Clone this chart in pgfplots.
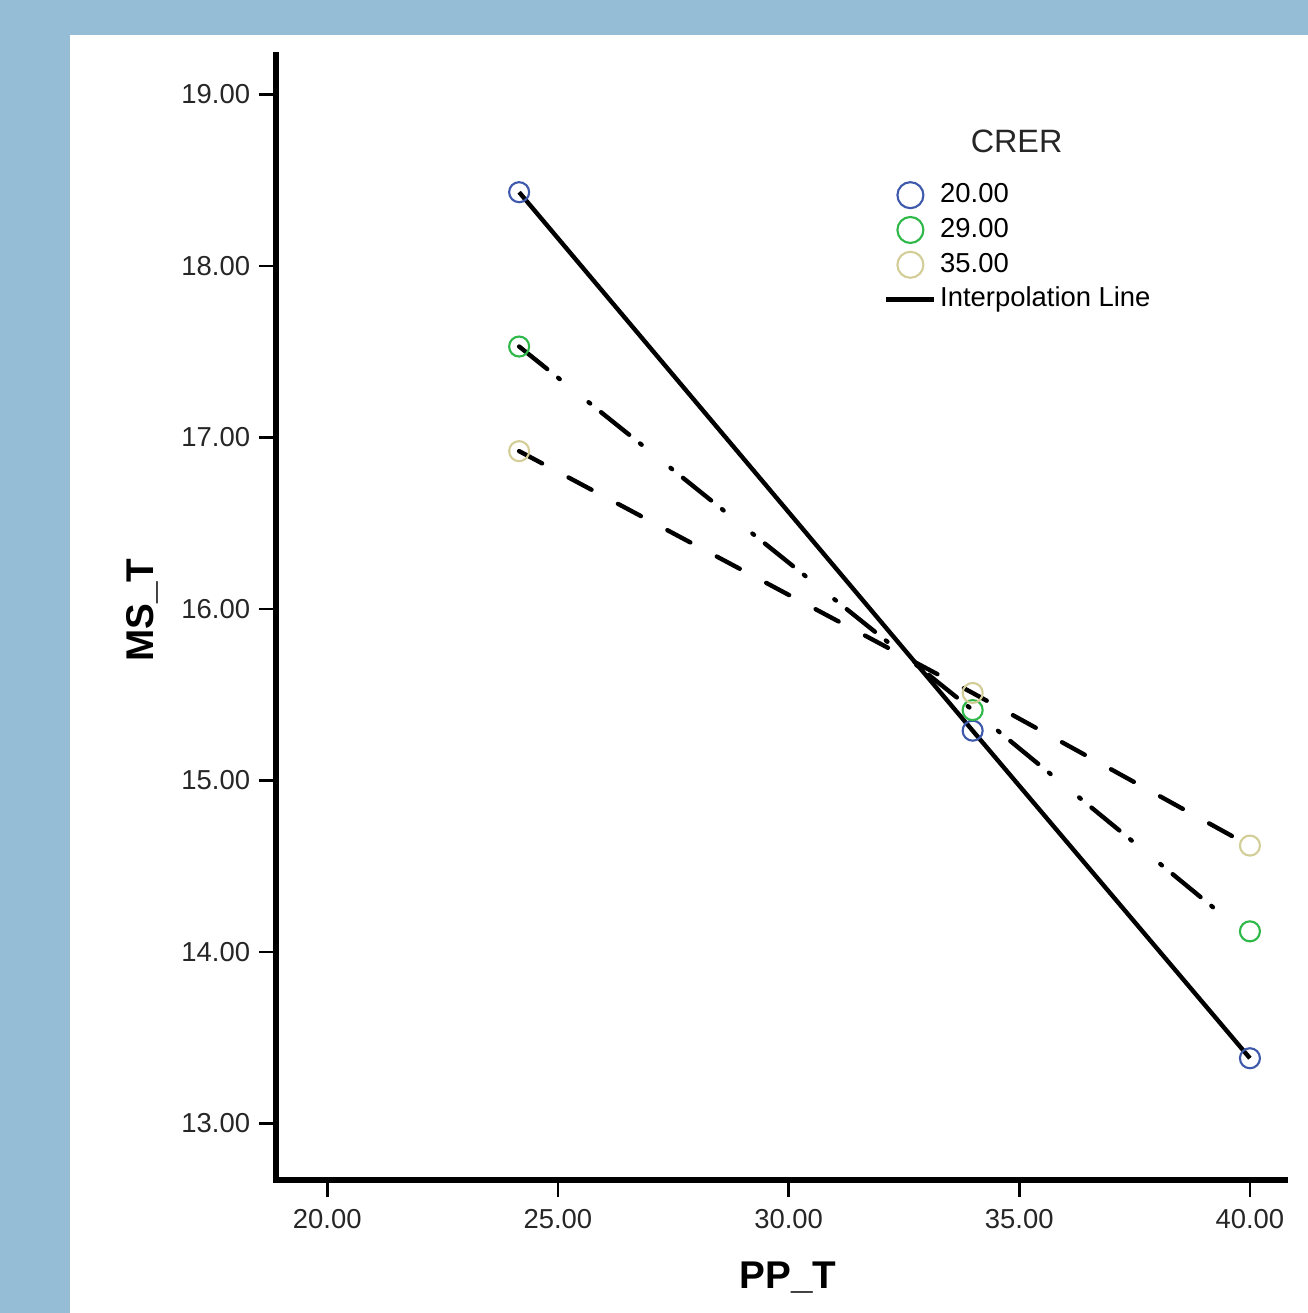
\documentclass[border=0pt]{standalone}
\usepackage{fontspec}
\setmainfont{Liberation Sans}
\usepackage{pgfplots}
\pgfplotsset{compat=1.18}

\definecolor{frame}{HTML}{95BDD6}
\definecolor{crerA}{HTML}{3E58AC}
\definecolor{crerB}{HTML}{2EB848}
\definecolor{crerC}{HTML}{D3CE97}

\pgfplotsset{
  markleg/.style={legend image code/.code={\path (0cm,0cm) (0.48cm,0cm); \draw[##1] plot coordinates {(0.24cm,0cm)};}},
  lineleg/.style={legend image code/.code={\draw[##1] (0cm,0cm) -- (0.48cm,0cm);}},
}

\begin{document}
\begin{tikzpicture}
% page background: blue strip on the left and top
\fill[frame] (0,0) rectangle (13.08,13.13);
\fill[white] (0.70,0) rectangle (13.08,12.78);

\begin{axis}[
  at={(2.76cm,1.33cm)}, anchor=south west,
  scale only axis, width=10.09cm, height=11.25cm,
  xmin=18.89, xmax=40.76, ymin=12.67, ymax=19.23,
  axis x line*=bottom, axis y line*=left,
  axis line style={-, line width=1.7pt, line cap=rect},
  xtick={20,25,...,40}, ytick={13,14,...,19},
  tick align=outside, major tick length=0.17cm,
  tick style={line width=0.75pt, black},
  /pgf/number format/.cd, fixed, fixed zerofill, precision=2, assume math mode=true,
  /pgfplots/.cd,
  tick label style={font=\fontsize{7.8}{9}\selectfont, text=black!85},
  yticklabel style={xshift=1pt},
  xlabel={PP\_T}, ylabel={MS\_T},
  label style={font=\fontsize{11}{13}\selectfont\bfseries},
  xlabel style={at={(axis description cs:0.5074,-0.0871)}, anchor=center},
  ylabel style={at={(axis description cs:-0.1328,0.5067)}, anchor=center},
  clip=false,
  legend style={at={(0.602,0.8907)}, anchor=north west, draw=none, fill=none,
    font=\fontsize{7.8}{9}\selectfont, row sep=0.5pt, inner sep=0pt,
    nodes={inner sep=1pt, text height=5.8pt, text depth=1.6pt}},
  legend cell align=left,
]
% CRER = 20.00
\addplot[only marks, mark=o, mark size=2.85pt, crerA, mark options={line width=0.6pt}, forget plot]
  coordinates {(24.16,18.43)(33.99,15.29)(40.00,13.38)};
% CRER = 29.00
\addplot[only marks, mark=o, mark size=2.85pt, crerB, mark options={line width=0.6pt}, forget plot]
  coordinates {(24.16,17.53)(33.99,15.41)(40.00,14.12)};
% CRER = 35.00
\addplot[only marks, mark=o, mark size=2.85pt, crerC, mark options={line width=0.6pt}, forget plot]
  coordinates {(24.16,16.92)(33.99,15.51)(40.00,14.62)};

% interpolation lines
\addplot[black, line width=1.25pt, no marks, forget plot]
  coordinates {(24.16,18.43)(33.99,15.29)(40.00,13.38)};
\addplot[black, line width=1.25pt, no marks, line cap=round,
  dash pattern=on 0.36cm off 0.14cm on 0.02cm off 0.37cm on 0.02cm off 0.14cm, forget plot]
  coordinates {(24.16,17.53)(33.99,15.41)(39.70,14.15)};
\addplot[black, line width=1.25pt, no marks, line cap=round,
  dash pattern=on 0.26cm off 0.30cm, forget plot]
  coordinates {(24.16,16.92)(33.99,15.51)(39.65,14.67)};

% legend
\addlegendimage{only marks, mark=o, mark size=3.7pt, crerA, mark options={line width=0.6pt}, markleg}
\addlegendentry{20.00}
\addlegendimage{only marks, mark=o, mark size=3.7pt, crerB, mark options={line width=0.6pt}, markleg}
\addlegendentry{29.00}
\addlegendimage{only marks, mark=o, mark size=3.7pt, crerC, mark options={line width=0.6pt}, markleg}
\addlegendentry{35.00}
\addlegendimage{black, line width=1.3pt, lineleg}
\addlegendentry{Interpolation Line}

\node[font=\fontsize{9.2}{11}\selectfont, text=black!85] at (axis description cs:0.734,0.923) {CRER};
\end{axis}
\pgfresetboundingbox
\useasboundingbox (0,0) rectangle (13.08,13.13);
\end{tikzpicture}
\end{document}
